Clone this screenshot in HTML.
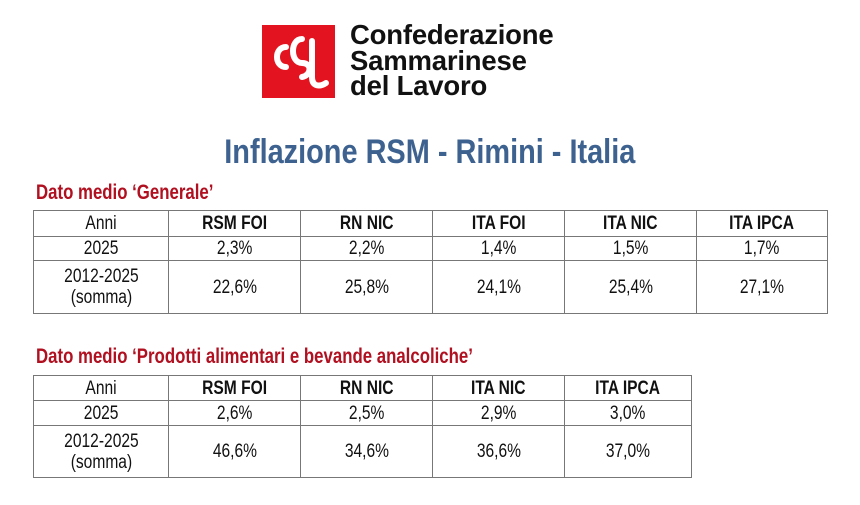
<!DOCTYPE html>
<html><head><meta charset="utf-8"><style>
body{margin:0;width:860px;height:505px;background:#fff;position:relative;overflow:hidden;font-family:"Liberation Sans",sans-serif;}
.abs{position:absolute}
table{position:absolute;border-collapse:collapse;font-size:19px;color:#111}
td{border:1.5px solid #777;text-align:center;padding:0;line-height:21px}
td span{display:inline-block;transform:scaleX(0.82)}
.sub{color:#b01020;font-size:21px;font-weight:bold;transform:scaleX(0.8);transform-origin:left;white-space:nowrap}
</style></head><body>
<div class="abs" style="left:262px;top:25px;width:73px;height:73px;background:#e3141f;">
<svg width="73" height="73" viewBox="0 0 73 73"><g fill="none" stroke="#fff" stroke-width="6" stroke-linecap="round">
<path d="M24 22 C12 22 12 42 24 42"/><path d="M40 14 C28 14 28 38 40 38 C50 38 50 50 40 52"/><path d="M50 16 L50 52 C50 62 58 62 64 58"/></g></svg></div>
<div class="abs" style="left:350px;top:22px;font-weight:bold;font-size:27.5px;line-height:25.5px;color:#111;letter-spacing:-0.2px">Confederazione<br>Sammarinese<br>del Lavoro</div>
<div class="abs" style="left:0;width:860px;top:133px;text-align:center;font-size:34px;font-weight:bold;color:#3d6290;"><span style="display:inline-block;transform:scaleX(0.85)">Inflazione RSM - Rimini - Italia</span></div>
<div class="abs sub" style="left:36px;top:181px">Dato medio ‘Generale’</div>
<table style="left:33px;top:210px;width:795px">
<colgroup><col style="width:135px"><col style="width:132px"><col style="width:132px"><col style="width:132px"><col style="width:132px"><col></colgroup>
<tr style="height:26px"><td><span>Anni</span></td><td><span><b>RSM FOI</b></span></td><td><span><b>RN NIC</b></span></td><td><span><b>ITA FOI</b></span></td><td><span><b>ITA NIC</b></span></td><td><span><b>ITA IPCA</b></span></td></tr>
<tr style="height:24px"><td><span>2025</span></td><td><span>2,3%</span></td><td><span>2,2%</span></td><td><span>1,4%</span></td><td><span>1,5%</span></td><td><span>1,7%</span></td></tr>
<tr style="height:53px"><td><span>2012-2025<br>(somma)</span></td><td><span>22,6%</span></td><td><span>25,8%</span></td><td><span>24,1%</span></td><td><span>25,4%</span></td><td><span>27,1%</span></td></tr>
</table>
<div class="abs sub" style="left:36px;top:345px">Dato medio ‘Prodotti alimentari e bevande analcoliche’</div>
<table style="left:33px;top:375px;width:659px">
<colgroup><col style="width:135px"><col style="width:132px"><col style="width:132px"><col style="width:132px"><col></colgroup>
<tr style="height:25px"><td><span>Anni</span></td><td><span><b>RSM FOI</b></span></td><td><span><b>RN NIC</b></span></td><td><span><b>ITA NIC</b></span></td><td><span><b>ITA IPCA</b></span></td></tr>
<tr style="height:25px"><td><span>2025</span></td><td><span>2,6%</span></td><td><span>2,5%</span></td><td><span>2,9%</span></td><td><span>3,0%</span></td></tr>
<tr style="height:52px"><td><span>2012-2025<br>(somma)</span></td><td><span>46,6%</span></td><td><span>34,6%</span></td><td><span>36,6%</span></td><td><span>37,0%</span></td></tr>
</table>
</body></html>
